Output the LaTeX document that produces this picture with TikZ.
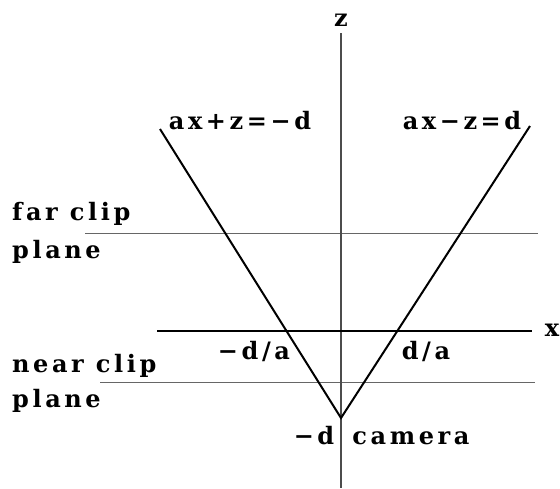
\documentclass[tikz,border=0pt]{standalone}
\usepackage{fontspec}
\newfontfamily\pix[LetterSpace=15]{DejaVu Serif}
\begin{document}
\begin{tikzpicture}[x=1pt,y=-1pt,
  lbl/.style={inner sep=0pt,font=\pix\bfseries\fontsize{24}{26}\selectfont},
  axisz/.style={draw=black!70,line width=1.3pt},
  axisx/.style={draw=black,line width=2.4pt},
  frust/.style={draw=black,line width=2pt},
  clip/.style={draw=black!60,line width=1pt}]
\useasboundingbox (0,0) rectangle (560,488);
% coordinates
\coordinate (ztop) at (341,33);
\coordinate (zbot) at (341,488);
\coordinate (xl) at (157,331);
\coordinate (xr) at (532,331);
\coordinate (farl) at (85,233);
\coordinate (farr) at (538,233);
\coordinate (nearl) at (100,382);
\coordinate (nearr) at (535,382);
\coordinate (cam) at (341,418);
\coordinate (lt) at (160,129);
\coordinate (rt) at (530,126);
% lines
\draw[clip] (farl) -- (farr);
\draw[clip] (nearl) -- (nearr);
\draw[axisz] (ztop) -- (zbot);
\draw[axisx] (xl) -- (xr);
\draw[frust] (lt) -- (cam) -- (rt);
% labels
\node[lbl] (zl) at (341,20) {z};
\node[lbl] (xlab) at (552,330) {x};
\node[lbl] (pl) at (240,121) {ax+z=−d};
\node[lbl] (pr) at (462,121) {ax−z=d};
\node[lbl,anchor=west] (far1) at (12,214) {far clip};
\node[lbl,anchor=west] (far2) at (12,252) {plane};
\node[lbl,anchor=west] (near1) at (12,366) {near clip};
\node[lbl,anchor=west] (near2) at (12,401) {plane};
\node[lbl] (mda) at (254,351) {−d/a};
\node[lbl] (da) at (426,351) {d/a};
\node[lbl] (md) at (314,436) {−d};
\node[lbl] (camlab) at (411,438) {camera};
\end{tikzpicture}
\end{document}
